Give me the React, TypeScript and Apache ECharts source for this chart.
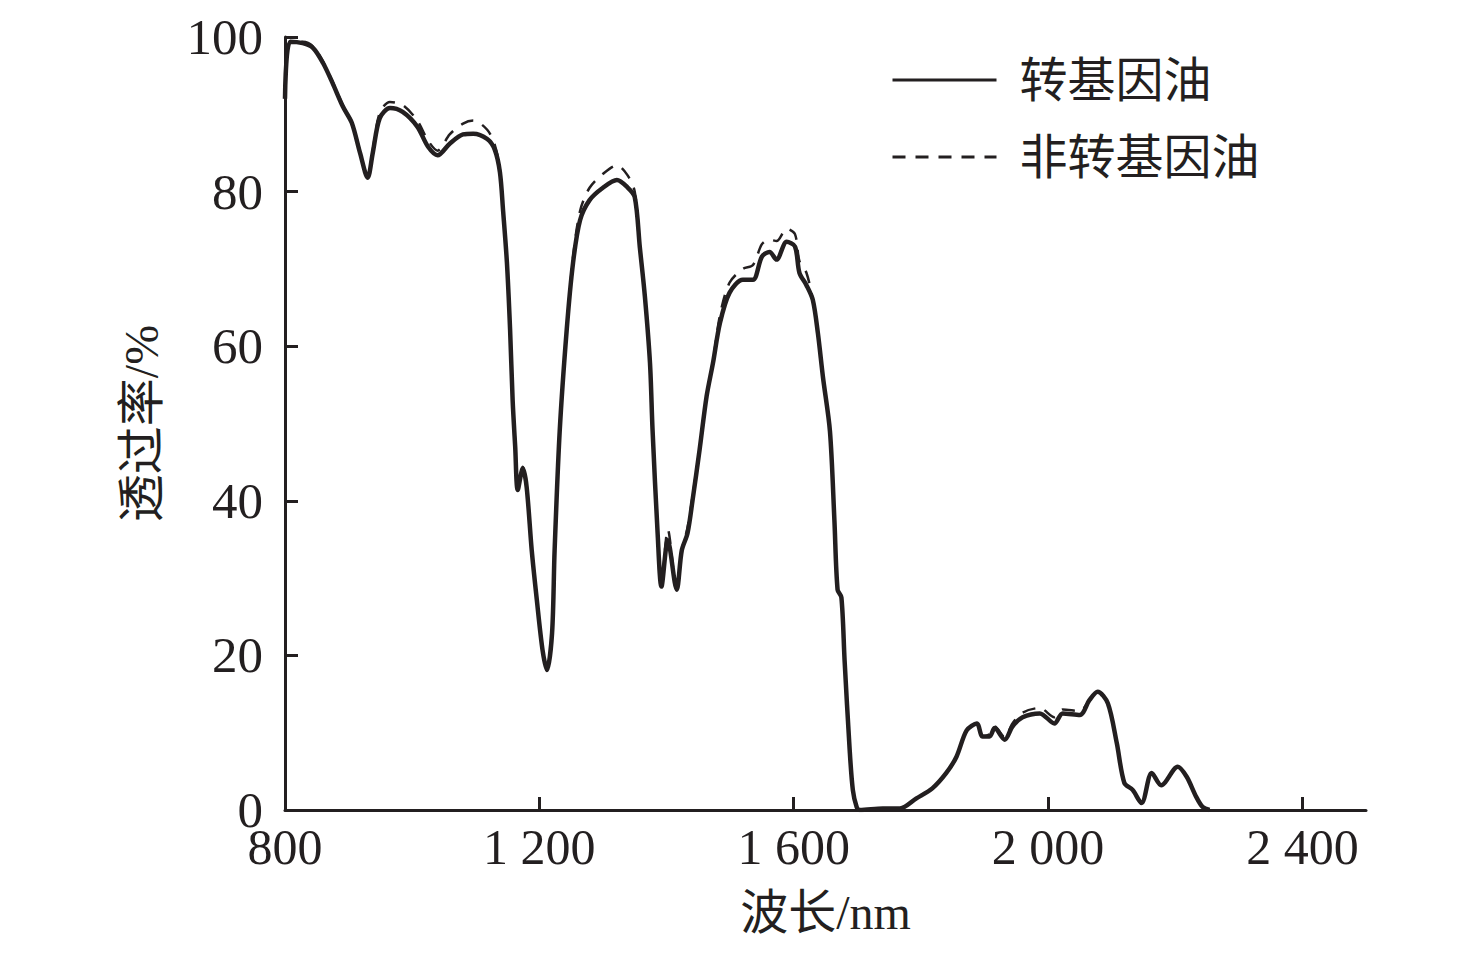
import { useEffect, useRef } from "react";
import * as echarts from "echarts";

const wavelengths = [
  800, 808, 828, 844, 860, 875, 891, 905, 918, 930, 938, 949, 965, 985, 1008, 1025, 1040, 1059, 1080, 1096,
  1118, 1130, 1138, 1143, 1149, 1154, 1158, 1162, 1166, 1174, 1180, 1188, 1196, 1205, 1212, 1220, 1224, 1232,
  1243, 1253, 1264, 1279, 1300, 1322, 1338, 1350, 1358, 1366, 1374, 1378, 1386, 1392, 1402, 1416, 1424, 1433,
  1441, 1452, 1463, 1473, 1484, 1499, 1520, 1536, 1550, 1562, 1573, 1589, 1602, 1609, 1620, 1630, 1638, 1646,
  1657, 1664, 1669, 1675, 1680, 1688, 1693, 1699, 1704, 1740, 1767, 1793, 1818, 1840, 1856, 1872, 1888, 1897,
  1908, 1916, 1932, 1944, 1960, 1987, 2010, 2023, 2050, 2065, 2078, 2094, 2108, 2120, 2133, 2147, 2163, 2178,
  2204, 2218, 2233, 2243, 2254,
];

const transgenic = [
  92, 99.4, 99.2, 98.6, 96.6, 94.0, 91.0, 88.9, 85.0, 81.8, 85.0, 89.5, 90.8, 90.3, 88.4, 85.8, 84.7, 86.2, 87.4, 87.5,
  86.8, 85.4, 82.5, 77.5, 70.8, 62.1, 53.0, 47.0, 41.4, 44.2, 41.8, 33.6, 27.2, 20.7, 18.1, 22.9, 33.6, 49.0,
  62.1, 70.8, 76.3, 78.9, 80.5, 81.5, 80.6, 79.3, 72.8, 66.4, 57.8, 49.2, 35.8, 28.9, 34.9, 28.5, 33.6, 35.8,
  40.1, 46.6, 53.5, 57.8, 63.0, 66.9, 68.6, 68.6, 71.6, 72.2, 71.2, 73.5, 72.9, 69.5, 67.9, 66.0, 61.7, 56.0,
  49.0, 37.5, 28.5, 27.5, 19.4, 7.8, 2.6, 0.4, 0, 0.2, 0.2, 1.5, 2.8, 4.8, 6.9, 10.3, 11.2, 9.5,
  9.5, 10.6, 9.1, 10.8, 12.0, 12.5, 11.2, 12.5, 12.3, 14.2, 15.3, 13.8, 8.7, 3.5, 2.6, 0.9, 4.8, 3.2,
  5.6, 4.3, 1.7, 0.4, 0,
];

const nonTransgenic = [
  92, 99.4, 99.4, 98.8, 96.8, 94.2, 91.2, 89.0, 85.2, 81.8, 85.4, 90.2, 91.6, 91.2, 89.2, 86.6, 85.3, 87.4, 88.8, 89.2,
  88.0, 86.0, 82.8, 77.5, 70.8, 62.1, 53.0, 47.0, 41.4, 44.4, 41.8, 33.6, 27.2, 20.7, 18.1, 22.9, 33.6, 49.0,
  62.1, 71.5, 77.5, 80.5, 82.3, 83.4, 82.2, 80.0, 73.0, 66.4, 57.8, 49.2, 35.8, 28.9, 36.3, 28.5, 33.6, 36.5,
  40.6, 46.8, 53.5, 58.0, 64.0, 68.2, 70.0, 70.5, 73.2, 73.8, 73.6, 75.2, 74.5, 71.0, 69.5, 66.0, 61.7, 56.0,
  49.0, 37.5, 28.5, 27.5, 19.4, 7.8, 2.6, 0.4, 0, 0.2, 0.2, 1.5, 2.8, 4.8, 6.9, 10.3, 11.2, 9.5,
  9.8, 10.8, 9.4, 11.2, 12.6, 13.2, 12.0, 13.0, 12.8, 14.2, 15.3, 13.8, 8.7, 3.5, 2.6, 0.9, 4.8, 3.2,
  5.6, 4.3, 1.7, 0.4, 0,
];

const xTickLabels = [800, 1200, 1600, 2000, 2400];
const xTickMarks = [1200, 1600, 2000, 2400];
const seriesNames = ["转基因油", "非转基因油"];

const INK = "#231f20";
const FONT = '"Liberation Serif", "Noto Sans CJK SC", serif';

function fmtThousands(v: number): string {
  const s = String(Math.round(v));
  return s.length > 3 ? s.slice(0, s.length - 3) + " " + s.slice(s.length - 3) : s;
}

export default function App() {
  const ref = useRef<HTMLDivElement>(null);

  useEffect(() => {
    if (!ref.current) return;
    const chart = echarts.init(ref.current, null, { renderer: "svg" });
    const solidData = wavelengths.map((w, i) => [w, transgenic[i]]);
    const dashedData = wavelengths.map((w, i) => [w, nonTransgenic[i]]);

    chart.setOption({
      animation: false,
      backgroundColor: "#ffffff",
      grid: { left: 285, right: 110, top: 37, bottom: 145, containLabel: false },
      legend: {
        orient: "vertical",
        left: 886,
        top: 51,
        itemWidth: 104,
        itemHeight: 16,
        itemGap: 29,
        data: seriesNames,
        itemStyle: { opacity: 0, borderWidth: 0 },
        lineStyle: { width: 3, color: INK },
        textStyle: { color: INK, fontSize: 48, fontFamily: FONT, padding: [0, 0, 0, 18] },
      },
      xAxis: {
        type: "value",
        min: 800,
        max: 2500,
        interval: 400,
        name: "波长/nm",
        nameLocation: "middle",
        nameGap: 78,
        nameTextStyle: { color: INK, fontSize: 48, fontFamily: FONT },
        axisLine: { show: true, lineStyle: { color: INK, width: 3 } },
        axisTick: { show: true, inside: true, length: 13, customValues: xTickMarks, lineStyle: { color: INK, width: 3 } },
        axisLabel: {
          customValues: xTickLabels,
          formatter: (v: number) => fmtThousands(v),
          color: INK,
          fontSize: 50,
          fontFamily: FONT,
          margin: 12,
        },
        splitLine: { show: false },
      },
      yAxis: {
        type: "value",
        min: 0,
        max: 100,
        interval: 20,
        name: "透过率/%",
        nameLocation: "middle",
        nameGap: 120,
        nameTextStyle: { color: INK, fontSize: 48, fontFamily: FONT },
        axisLine: { show: true, lineStyle: { color: INK, width: 3 } },
        axisTick: { show: true, inside: true, length: 13, lineStyle: { color: INK, width: 3 } },
        axisLabel: { color: INK, fontSize: 51, fontFamily: FONT, margin: 22 },
        splitLine: { show: false },
      },
      series: [
        {
          name: seriesNames[0],
          type: "line",
          data: solidData,
          symbol: "none",
          showSymbol: false,
          smooth: 0.3,
          lineStyle: { color: INK, width: 4.5, type: "solid" },
          itemStyle: { color: INK },
          z: 2,
        },
        {
          name: seriesNames[1],
          type: "line",
          data: dashedData,
          symbol: "none",
          showSymbol: false,
          smooth: 0.3,
          lineStyle: { color: INK, width: 2.5, type: [13, 10] },
          itemStyle: { color: INK },
          z: 3,
        },
      ],
    });
    return () => chart.dispose();
  }, []);

  return (
    <div
      ref={ref}
      style={{ position: "fixed", left: 0, top: 0, width: 1476, height: 955, background: "#ffffff" }}
    />
  );
}
